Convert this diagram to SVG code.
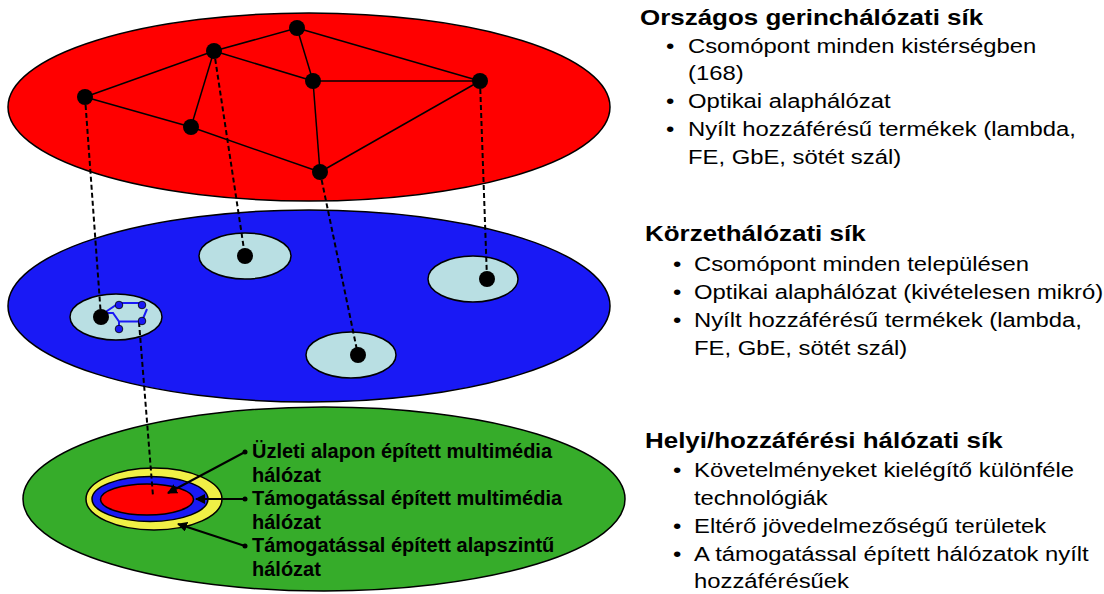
<svg xmlns="http://www.w3.org/2000/svg" width="1104" height="594" viewBox="0 0 1104 594">
<style>
.plane{stroke:#000;stroke-width:1.5}
.edge{stroke:#000;stroke-width:1.5;fill:none}
.dash{stroke:#000;stroke-width:2;stroke-dasharray:5 3;fill:none}
.node{fill:#000}
.cell{fill:#B9DFE3;stroke:#000;stroke-width:1.5}
.sub{fill:#1919F5;stroke:#000;stroke-width:0.8}
.subl{stroke:#1919F5;stroke-width:2;fill:none}
.title{font-family:"Liberation Sans",Arial,sans-serif;font-weight:bold;font-size:22px;fill:#000}
.item{font-family:"Liberation Sans",Arial,sans-serif;font-size:21px;fill:#000}
.lab{font-family:"Liberation Sans",Arial,sans-serif;font-weight:bold;font-size:20px;fill:#000}
.arr{stroke:#000;stroke-width:2;fill:none;marker-end:url(#ah)}
</style>
<defs>
<marker id="ah" viewBox="0 0 10 10" refX="9" refY="5" markerWidth="5" markerHeight="5" orient="auto" markerUnits="strokeWidth">
<path d="M0,0 L10,5 L0,10 z" fill="#000"/>
</marker>
</defs>

<g id="plane-national">
<ellipse class="plane" cx="309" cy="107" rx="301" ry="94" fill="#FF0000"/>
</g>
<g id="plane-district">
<ellipse class="plane" cx="309" cy="306" rx="301" ry="96" fill="#1919F5"/>
</g>
<g id="plane-local">
<ellipse class="plane" cx="324" cy="499" rx="301" ry="92" fill="#36AC2A"/>
</g>

<g id="cells">
<ellipse id="cell1" class="cell" cx="245" cy="256" rx="46" ry="23"/>
<ellipse id="cell2" class="cell" cx="473" cy="279" rx="45" ry="23"/>
<ellipse id="cell3" class="cell" cx="116" cy="317" rx="46" ry="23"/>
<ellipse id="cell4" class="cell" cx="351" cy="355" rx="45" ry="23"/>
</g>

<g id="access-rings">
<ellipse cx="154" cy="499" rx="68" ry="31" fill="#F0F046" stroke="#000" stroke-width="1.5"/>
<ellipse cx="150" cy="499" rx="58" ry="22.5" fill="#1919F5" stroke="#000" stroke-width="1.5"/>
<ellipse cx="147" cy="499.5" rx="46.5" ry="15.5" fill="#FF0000" stroke="#000" stroke-width="1.5"/>
</g>

<g id="connectors">
<g id="backbone-links">
<line class="edge" x1="297" y1="28" x2="214" y2="51"/>
<line class="edge" x1="297" y1="28" x2="313" y2="81"/>
<line class="edge" x1="297" y1="28" x2="480" y2="81"/>
<line class="edge" x1="214" y1="51" x2="85" y2="97"/>
<line class="edge" x1="214" y1="51" x2="313" y2="81"/>
<line class="edge" x1="214" y1="51" x2="191" y2="127"/>
<line class="edge" x1="313" y1="81" x2="480" y2="81"/>
<line class="edge" x1="313" y1="81" x2="320" y2="172"/>
<line class="edge" x1="480" y1="81" x2="320" y2="172"/>
<line class="edge" x1="85" y1="97" x2="191" y2="127"/>
<line class="edge" x1="191" y1="127" x2="320" y2="172"/>
</g>
<g id="vertical-links">
<line class="dash" x1="85" y1="97" x2="101" y2="317"/>
<line class="dash" x1="214" y1="51" x2="245" y2="256"/>
<line class="dash" x1="320" y1="172" x2="358" y2="355"/>
<line class="dash" x1="480" y1="81" x2="487" y2="279"/>
<line class="dash" x1="139" y1="322" x2="153" y2="496"/>
</g>
<g id="micro-links">
<path class="subl" d="M101,315 L119,303 L142,303"/>
<path class="subl" d="M147,309 L142,321"/>
<path class="subl" d="M102,313 L113,313 L119,321.5 L142,321.5"/>
<path class="subl" d="M119,321.5 L119,332"/>
</g>
<g id="label-arrows">
<line class="arr" x1="245" y1="452" x2="168" y2="493"/>
<line class="arr" x1="245" y1="499" x2="196" y2="499"/>
<line class="arr" x1="245" y1="546" x2="178" y2="524"/>
<circle cx="245" cy="452" r="2.5" fill="#000"/>
<circle cx="245" cy="499" r="2.5" fill="#000"/>
<circle cx="245" cy="546" r="2.5" fill="#000"/>
</g>
</g>

<g id="backbone-nodes">
<circle class="node" cx="297" cy="28" r="8"/>
<circle class="node" cx="214" cy="51" r="8"/>
<circle class="node" cx="313" cy="81" r="8"/>
<circle class="node" cx="480" cy="81" r="8"/>
<circle class="node" cx="85" cy="97" r="8"/>
<circle class="node" cx="191" cy="127" r="8"/>
<circle class="node" cx="320" cy="172" r="8"/>
</g>

<g id="district-nodes">
<circle class="node" cx="245" cy="256" r="8"/>
<circle class="node" cx="487" cy="279" r="8"/>
<circle class="node" cx="101" cy="317" r="8"/>
<circle class="node" cx="358" cy="355" r="8"/>
<circle class="sub" cx="119" cy="305" r="3.8"/>
<circle class="sub" cx="142" cy="305" r="3.8"/>
<circle class="sub" cx="142" cy="321" r="3.8"/>
<circle class="sub" cx="119" cy="329" r="3.8"/>
</g>

<g id="access-labels">
<text class="lab" x="252" y="458">Üzleti alapon épített multimédia</text>
<text class="lab" x="252" y="482">hálózat</text>
<text class="lab" x="252" y="505">Támogatással épített multimédia</text>
<text class="lab" x="252" y="529">hálózat</text>
<text class="lab" x="252" y="552">Támogatással épített alapszintű</text>
<text class="lab" x="252" y="576">hálózat</text>
</g>

<g id="legend-national">
<text class="title" transform="translate(640 25) scale(1.18 1)">Országos gerinchálózati sík</text>
<text class="item" transform="translate(666 53) scale(1.135 1)">•</text>
<text class="item" transform="translate(688 53) scale(1.135 1)">Csomópont minden kistérségben</text>
<text class="item" transform="translate(688 80) scale(1.135 1)">(168)</text>
<text class="item" transform="translate(666 108) scale(1.135 1)">•</text>
<text class="item" transform="translate(688 108) scale(1.135 1)">Optikai alaphálózat</text>
<text class="item" transform="translate(666 136) scale(1.135 1)">•</text>
<text class="item" transform="translate(688 136) scale(1.135 1)">Nyílt hozzáférésű termékek (lambda,</text>
<text class="item" transform="translate(688 164) scale(1.135 1)">FE, GbE, sötét szál)</text>
</g>

<g id="legend-district">
<text class="title" transform="translate(645 241) scale(1.18 1)">Körzethálózati sík</text>
<text class="item" transform="translate(673 271) scale(1.135 1)">•</text>
<text class="item" transform="translate(694 271) scale(1.135 1)">Csomópont minden településen</text>
<text class="item" transform="translate(673 299) scale(1.135 1)">•</text>
<text class="item" transform="translate(694 299) scale(1.135 1)">Optikai alaphálózat (kivételesen mikró)</text>
<text class="item" transform="translate(673 327) scale(1.135 1)">•</text>
<text class="item" transform="translate(694 327) scale(1.135 1)">Nyílt hozzáférésű termékek (lambda,</text>
<text class="item" transform="translate(694 355) scale(1.135 1)">FE, GbE, sötét szál)</text>
</g>

<g id="legend-local">
<text class="title" transform="translate(645 448) scale(1.18 1)">Helyi/hozzáférési hálózati sík</text>
<text class="item" transform="translate(673 477) scale(1.135 1)">•</text>
<text class="item" transform="translate(694 477) scale(1.135 1)">Követelményeket kielégítő különféle</text>
<text class="item" transform="translate(694 505) scale(1.135 1)">technológiák</text>
<text class="item" transform="translate(673 533) scale(1.135 1)">•</text>
<text class="item" transform="translate(694 533) scale(1.135 1)">Eltérő jövedelmezőségű területek</text>
<text class="item" transform="translate(673 561) scale(1.135 1)">•</text>
<text class="item" transform="translate(694 561) scale(1.135 1)">A támogatással épített hálózatok nyílt</text>
<text class="item" transform="translate(694 588) scale(1.135 1)">hozzáférésűek</text>
</g>
</svg>
